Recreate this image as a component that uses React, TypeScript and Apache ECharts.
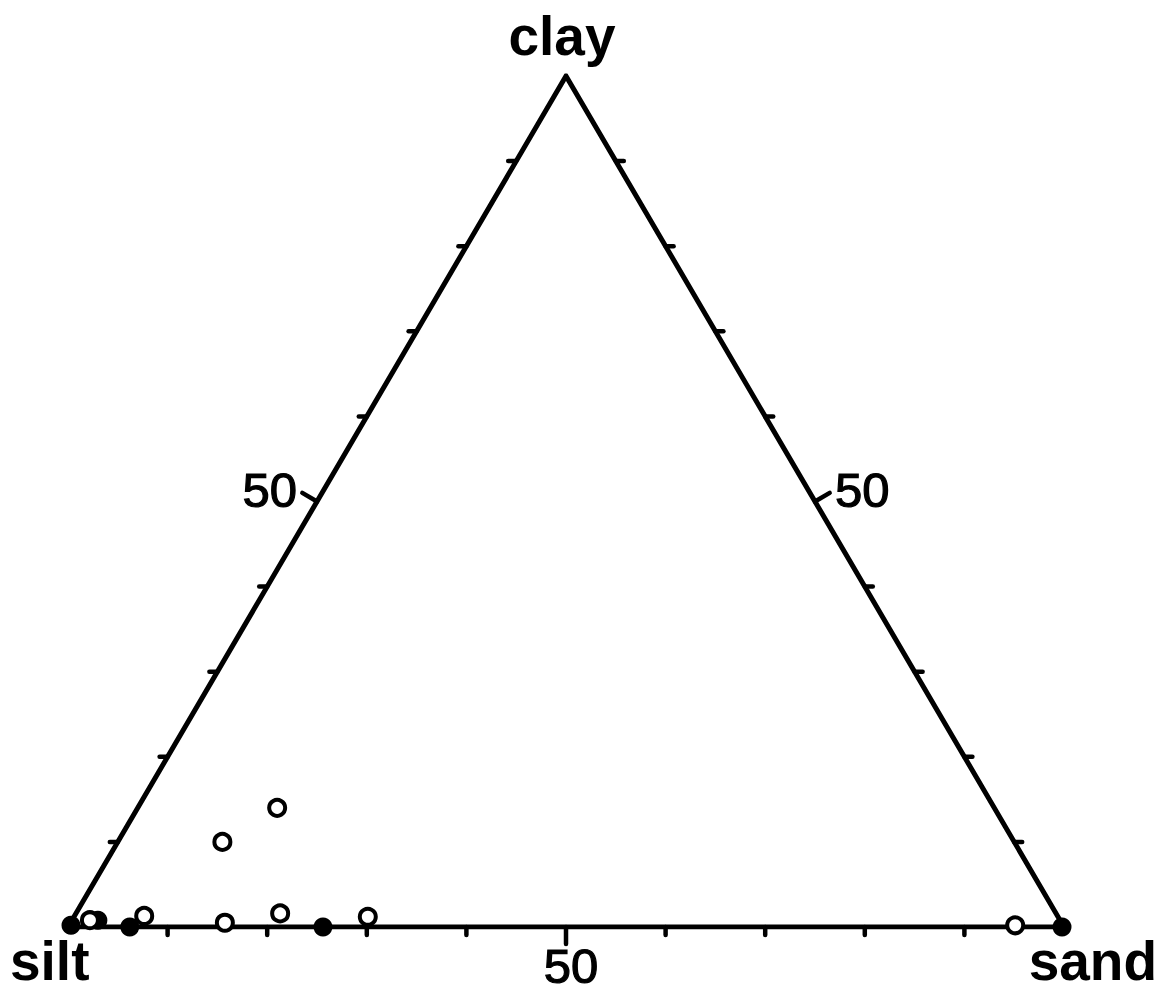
import React, { useEffect, useRef } from "react";
import * as echarts from "echarts";

// Ternary data: [sand %, clay %] (silt = remainder)
const openSand = [14, 10.5, 7, 15.5, 20.5, 29.5, 95, 1.8];
const openClay = [14, 10, 1.3, 0.5, 1.6, 1.2, 0.2, 0.8];
const filledSand = [0.2, 2.6, 6.2, 25.6, 99.8];
const filledClay = [0.2, 0.8, 0, 0, 0];
const tickValues = [10, 20, 30, 40, 50, 60, 70, 80, 90];
const vertexLabels = ["clay", "silt", "sand"];
const axisLabel = "50";

const toXY = (sand: number, clay: number) => [sand + clay / 2, clay];

export default function App() {
  const ref = useRef<HTMLDivElement>(null);
  useEffect(() => {
    if (!ref.current) return;
    const chart = echarts.init(ref.current, undefined, { renderer: "svg" });
    const tickData: any[] = [];
    tickValues.forEach((v) => {
      tickData.push([0, v]); // bottom
      tickData.push([1, v]); // left (clay)
      tickData.push([2, v]); // right
    });
    const font = "bold 55px 'Liberation Sans', Arial, sans-serif";
    const numFont = "49px 'Liberation Sans', Arial, sans-serif";
    const numStyle = { font: numFont, fill: "#000", stroke: "#000", lineWidth: 1.2, verticalAlign: "middle" };
    chart.setOption({
      animation: false,
      backgroundColor: "#fff",
      grid: { left: 68, right: 105, top: 76, bottom: 66, outerBoundsMode: "none" },
      xAxis: { type: "value", min: 0, max: 100, show: false },
      yAxis: { type: "value", min: 0, max: 100, show: false },
      series: [
        {
          type: "line",
          data: [[0, 0], [100, 0], [50, 100], [0, 0]],
          symbol: "none",
          lineStyle: { color: "#000", width: 5, join: "miter" },
          z: 2,
        },
        {
          type: "custom",
          data: tickData,
          z: 2,
          renderItem: (params: any, api: any) => {
            const edge = api.value(0);
            const v = api.value(1);
            const major = v === 50;
            let p: number[];
            let dir: number[];
            if (edge === 0) {
              p = api.coord([v, 0]);
              dir = [0, 1];
            } else if (edge === 1) {
              p = api.coord([v / 2, v]);
              const a = api.coord([0, 0]);
              const b = api.coord([50, 100]);
              const dx = b[0] - a[0], dy = b[1] - a[1];
              const L = Math.hypot(dx, dy);
              dir = major ? [dy / L, -dx / L] : [-1, 0];
              if (major && dir[0] > 0) dir = [-dir[0], -dir[1]];
            } else {
              p = api.coord([100 - v / 2, v]);
              const a = api.coord([100, 0]);
              const b = api.coord([50, 100]);
              const dx = b[0] - a[0], dy = b[1] - a[1];
              const L = Math.hypot(dx, dy);
              dir = major ? [dy / L, -dx / L] : [1, 0];
              if (major && dir[0] < 0) dir = [-dir[0], -dir[1]];
            }
            const len = major ? 17 : 8;
            return {
              type: "line",
              shape: { x1: p[0], y1: p[1], x2: p[0] + dir[0] * len, y2: p[1] + dir[1] * len },
              style: { stroke: "#000", lineWidth: 4.5, lineCap: "round" },
            };
          },
        },
        {
          type: "scatter",
          data: filledSand.map((s, i) => toXY(s, filledClay[i])),
          symbol: "circle",
          symbolSize: 19,
          itemStyle: { color: "#000", opacity: 1 },
          z: 3,
        },
        {
          type: "scatter",
          data: openSand.map((s, i) => toXY(s, openClay[i])),
          symbol: "circle",
          symbolSize: 16,
          itemStyle: { color: "#fff", borderColor: "#000", borderWidth: 4, opacity: 1 },
          z: 4,
        },
      ],
      graphic: [
        { type: "text", style: { text: vertexLabels[0], x: 562, y: 36, align: "center", verticalAlign: "middle", font, fill: "#000" } },
        { type: "text", style: { text: vertexLabels[1], x: 10, y: 961, align: "left", verticalAlign: "middle", font, fill: "#000" } },
        { type: "text", style: { text: vertexLabels[2], x: 1157, y: 961, align: "right", verticalAlign: "middle", font, fill: "#000" } },
        { type: "text", style: { ...numStyle, text: axisLabel, x: 297, y: 490, align: "right" } },
        { type: "text", style: { ...numStyle, text: axisLabel, x: 835, y: 490, align: "left" } },
        { type: "text", style: { ...numStyle, text: axisLabel, x: 571, y: 966, align: "center" } },
      ],
    });
    return () => chart.dispose();
  }, []);
  return (
    <div
      ref={ref}
      style={{ position: "fixed", left: 0, top: 0, width: 1169, height: 993, background: "#fff" }}
    />
  );
}
